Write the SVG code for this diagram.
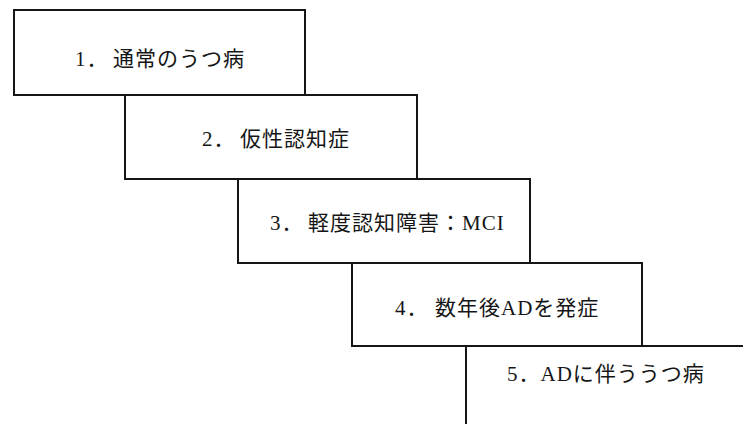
<svg xmlns="http://www.w3.org/2000/svg" width="743" height="425" viewBox="0 0 743 425">
<style>
.box{fill:#fff;stroke:#151515;stroke-width:2}
.open{fill:none;stroke:#151515;stroke-width:2}
.lbl{font-family:"Liberation Serif","Noto Sans CJK JP",serif;font-size:21px;letter-spacing:1px;fill:#151515}
.cjk{font-family:"Noto Sans CJK JP",sans-serif}
</style>
<rect width="743" height="425" fill="#fff"/>
<g id="node5">
<path class="open" d="M466 346 H743 M466 346 V424"/>
<text class="lbl" x="507" y="381">5<tspan class="cjk">．</tspan>AD<tspan class="cjk">に伴ううつ病</tspan></text>
</g>
<g id="node4">
<rect class="box" x="352" y="263" width="290" height="83"/>
<text class="lbl" x="395" y="315">4<tspan class="cjk">．</tspan><tspan class="cjk" x="435">数年後</tspan>AD<tspan class="cjk">を発症</tspan></text>
</g>
<g id="node3">
<rect class="box" x="238" y="179" width="292" height="84"/>
<text class="lbl" x="270" y="230">3<tspan class="cjk">．</tspan><tspan class="cjk" x="308">軽度認知障害：</tspan>MCI</text>
</g>
<g id="node2">
<rect class="box" x="125" y="95" width="292" height="84"/>
<text class="lbl" x="202" y="145.5">2<tspan class="cjk">．</tspan><tspan class="cjk" x="240">仮性認知症</tspan></text>
</g>
<g id="node1">
<rect class="box" x="14" y="10" width="291" height="85"/>
<text class="lbl" x="75" y="65.5">1<tspan class="cjk">．</tspan><tspan class="cjk" x="113">通常のうつ病</tspan></text>
</g>
<g id="connectors"></g>
</svg>
